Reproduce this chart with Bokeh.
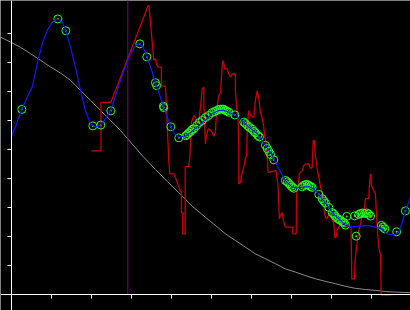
from bokeh.plotting import figure
from bokeh.models import Range1d, FixedTicker
from bokeh.embed import file_html
from bokeh.resources import INLINE

# ---- data (x: 0..100, y: 0..~100) ----
gray_x = [-2.6, -0.1, 2.4, 4.9, 7.4, 9.9, 12.4, 14.9, 17.4, 19.9, 22.4, 24.9, 27.4, 29.9,
          32.8, 36.1, 39.1, 42.4, 45.4, 48.6, 51.1, 53.6, 56.1, 58.6, 61.1, 63.6, 66.1,
          68.6, 71.1, 73.6, 76.1, 78.6, 81.1, 83.6, 86.1, 88.6, 91.1, 93.6, 96.1, 99.9]
gray_y = [88.9, 87.2, 85.4, 83.2, 80.9, 78.6, 76.5, 74.0, 70.5, 67.1, 63.6, 60.2, 56.7, 52.7,
          48.1, 43.3, 39.1, 34.7, 30.5, 26.8, 24.0, 21.1, 18.8, 16.5, 14.2, 12.5, 10.8,
          9.0, 7.9, 6.7, 5.6, 4.7, 3.9, 3.0, 2.3, 1.9, 1.6, 1.2, 1.0, 0.8]

blue_x = [0, 1.1, 2.7, 4.05, 5.3, 6.55, 7.8, 9.05, 10.3, 11.7, 12.8, 13.7, 14.9, 16.1, 17.4,
          18.6, 19.9, 21.1, 22.45, 23.6, 24.95, 26.55, 28.2, 29.9, 31.1, 32.2, 33.2, 33.95,
          35.05, 36.1, 37.2, 38.2, 39.05, 39.95, 40.9, 41.95, 43.7, 45.3, 47.4, 49.05, 50.3,
          51.95, 53.1, 54.45, 55.95, 58.2, 59.45, 61.55, 63.6, 65.3, 66.9, 68.6, 70.3, 71.4,
          72.8, 74.4, 75.6, 76.95, 78.6, 80.7, 82.4, 83.6, 84.9, 86.95, 89.05, 90.7, 92.4,
          94.05, 95.7, 96.9, 97.8, 98.6, 99.45, 100.1]
blue_y = [54.3, 57.9, 64.0, 68.2, 71.7, 79.7, 86.6, 91.2, 94.1, 95.2, 94.1, 91.1, 85.4, 78.6,
          70.5, 63.6, 59.0, 57.9, 58.6, 60.8, 63.5, 70.5, 77.4, 83.2, 86.0, 86.8, 84.9, 82.1,
          78.0, 73.2, 68.8, 64.8, 61.3, 58.0, 55.6, 54.4, 54.9, 56.5, 59.0, 60.9, 62.6,
          63.6, 63.8, 63.0, 62.1, 59.6, 57.9, 55.6, 51.6, 48.1, 43.6, 39.5, 37.2, 36.9,
          37.2, 37.4, 36.7, 34.7, 31.7, 27.8, 25.7, 24.0, 23.6, 23.6, 24.0, 23.6, 22.9,
          21.1, 20.8, 21.6, 25.1, 28.9, 32.0, 35.0]

pts_x = [2.7, 11.7, 13.7, 20.45, 22.45, 24.95, 32.2, 33.95, 36.1, 36.4, 38.1, 38.2, 39.95,
         41.95, 43.7, 44.05, 44.45, 44.9, 45.3, 45.7, 46.4, 47.1, 47.8, 48.6, 49.4, 50.3,
         50.9, 51.4, 51.95, 52.4, 52.9, 53.25, 53.6, 54.0, 54.45, 55.95, 58.2, 58.6, 59.1,
         59.6, 60.3, 60.75, 61.1, 61.7, 62.1, 63.6, 64.05, 64.45, 64.9, 65.7, 68.6, 69.05,
         69.45, 69.9, 70.3, 70.7, 72.8, 73.2, 73.6, 74.05, 74.45, 74.9, 75.3, 76.95, 77.8,
         78.2, 78.6, 79.45, 80.3, 80.7, 81.1, 81.6, 82.0, 82.4, 82.9, 83.2, 83.6, 83.95,
         85.9, 86.3, 86.95, 87.4, 87.9, 88.4, 88.9, 89.4, 89.9, 92.6, 93.0, 93.45, 96.4, 98.6]
pts_y = [64.0, 95.2, 91.1, 58.3, 58.6, 63.5, 86.6, 82.1, 73.2, 72.2, 65.1, 64.6, 58.0,
         54.2, 54.9, 55.3, 55.9, 56.4, 57.1, 57.3, 58.4, 59.5, 60.2, 61.2, 61.9, 62.9,
         63.3, 63.6, 64.0, 64.1, 64.1, 64.0, 63.6, 63.4, 63.0, 62.1, 59.6, 59.1, 58.4,
         57.8, 57.1, 56.4, 55.9, 55.0, 54.5, 51.6, 50.5, 49.5, 48.4, 46.6, 39.5, 39.0,
         38.4, 37.8, 37.2, 36.8, 37.3, 37.8, 38.1, 38.1, 37.8, 37.4, 37.1, 34.7, 33.2,
         32.4, 31.7, 30.2, 28.4, 27.9, 27.1, 26.4, 26.0, 25.7, 25.2, 25.0, 24.1, 27.1,
         27.3, 20.3, 27.8, 28.1, 28.3, 28.1, 28.3, 27.9, 27.2, 24.0, 23.4, 22.8, 21.8, 29.0]

red_x = [20.1, 22.5, 22.5, 24.95, 34.3, 34.5, 35.7, 36.1, 36.4, 36.8, 37.6, 37.6, 38.6, 38.8,
         39.05, 39.45, 39.7, 40.7, 41.4, 41.95, 42.6, 42.6, 42.9, 42.9, 43.55, 43.55, 44.4,
         44.7, 44.9, 45.1, 45.7, 46.1, 46.55, 46.95, 47.4, 47.8, 48.2, 48.2, 48.6, 48.9, 49.3,
         49.9, 50.3, 50.7, 51.1, 51.4, 51.95, 52.4, 52.8, 53.05, 53.4, 54.05, 54.4, 54.9,
         55.3, 55.9, 56.1, 56.1, 56.55, 56.75, 56.95, 56.95, 57.4, 57.6, 58.1, 58.6, 58.9,
         59.1, 59.4, 59.9, 60.7, 61.1, 61.55, 61.9, 62.4, 62.8, 63.2, 63.4, 63.75, 64.05,
         64.25, 66.25, 66.75, 67.1, 67.4, 67.8, 68.2, 68.6, 70.45, 70.45, 71.3, 71.4, 71.75,
         72.1, 72.8, 73.2, 73.6, 74.45, 74.9, 75.3, 75.55, 75.8, 76.1, 76.55, 76.9, 77.4,
         77.8, 78.2, 78.6, 79.05, 79.45, 79.9, 80.3, 80.7, 80.95, 81.25, 81.55, 81.95, 82.4,
         82.8, 83.6, 84.45, 85.0, 85.2, 85.9, 86.0, 86.3, 86.6, 86.95, 87.4, 87.9, 88.2,
         88.6, 89.45, 89.6, 89.9, 90.1, 90.7, 91.1, 91.4, 91.6, 91.95, 92.4, 92.55, 95.05]
red_y = [49.7, 49.7, 66.4, 66.4, 99.8, 99.8, 80.9, 81.6, 79.5, 78.6, 78.6, 72.2, 71.9, 67.1,
         59.0, 46.4, 41.8, 41.8, 39.5, 37.2, 35.3, 28.4, 28.4, 21.1, 21.1, 44.3, 44.3,
         47.1, 53.3, 59.5, 61.9, 61.2, 59.1, 59.6, 65.3, 71.1, 71.7, 66.5, 52.1, 55.0, 57.3,
         56.7, 56.0, 54.7, 56.0, 63.6, 68.8, 69.8, 79.1, 80.9, 78.0, 78.0, 76.3, 75.1,
         76.3, 76.0, 76.3, 70.5, 62.6, 61.9, 48.1, 38.4, 38.9, 41.2, 43.6, 47.1, 48.1,
         57.8, 63.6, 61.9, 61.2, 67.1, 70.5, 68.1, 62.6, 61.2, 57.8, 55.0, 52.6, 48.1,
         42.3, 42.9, 37.8, 26.3, 27.8, 28.4, 25.0, 23.4, 23.4, 21.1, 21.1, 34.3, 37.8,
         41.9, 42.9, 44.7, 45.2, 45.2, 43.6, 44.1, 53.3, 53.3, 48.1, 43.5, 41.2, 37.2,
         35.0, 30.3, 26.8, 26.3, 28.0, 26.8, 26.3, 24.6, 19.9, 19.9, 22.2, 23.4, 25.1,
         24.0, 23.4, 24.0, 23.4, 5.6, 5.6, 11.2, 15.3, 18.8, 22.2, 24.7, 28.1, 27.4,
         33.2, 33.2, 37.8, 41.8, 37.8, 36.0, 35.0, 27.4, 22.2, 16.5, 13.6, 0.0, 0.0]

cursor_x = 29.2
cursor_y = [0, 102]
x_ticks = [10, 20, 30, 40, 50, 60, 70, 80, 90]
y_ticks = [10, 20, 30, 40, 50, 60, 70, 80, 90]

p = figure(width=410, height=310, output_backend="svg", toolbar_location=None,
           x_range=Range1d(-2.625, 99.875), y_range=Range1d(-5.345, 101.55),
           min_border=0, min_border_left=0, min_border_right=0,
           min_border_top=0, min_border_bottom=0)
p.background_fill_color = "#000000"
p.border_fill_color = "#000000"
p.outline_line_color = None
p.grid.visible = False

for ax in (p.xaxis[0], p.yaxis[0]):
    ax.fixed_location = 0
    ax.axis_line_color = "white"
    ax.axis_line_width = 1
    ax.major_tick_line_color = "white"
    ax.major_tick_out = 4
    ax.major_tick_in = 0
    ax.minor_tick_line_color = None
    ax.major_label_text_color = None
    ax.major_label_standoff = 0
p.xaxis[0].ticker = FixedTicker(ticks=x_ticks)
p.yaxis[0].ticker = FixedTicker(ticks=y_ticks)

p.line(gray_x, gray_y, line_color="#8c8c8c", line_width=1)
p.line([cursor_x, cursor_x], cursor_y, line_color="#800080", line_width=1)
p.line(red_x, red_y, line_color="#cc0000", line_width=1.3)
p.scatter(pts_x, pts_y, marker="circle_dot", size=8, line_color="#22ff22",
          fill_alpha=0, line_width=1)
p.line(blue_x, blue_y, line_color="#1515ff", line_width=1.2)

open("out.html", "w").write(file_html(p, INLINE))
